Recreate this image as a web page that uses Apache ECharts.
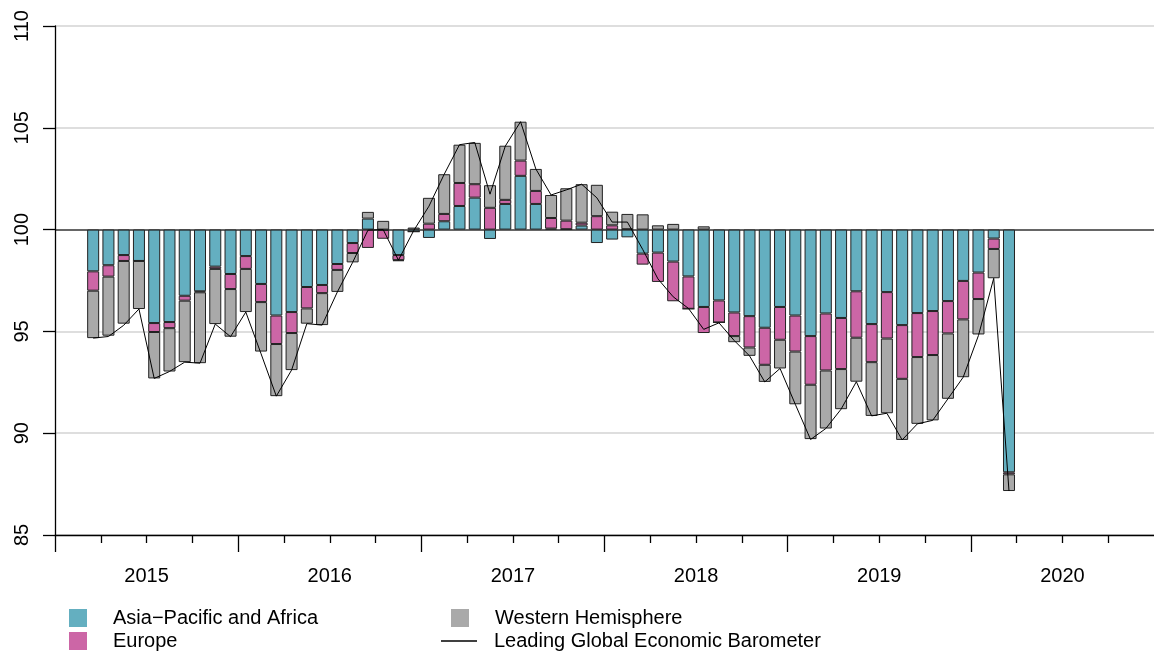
<!DOCTYPE html>
<html><head><meta charset="utf-8">
<script src="https://cdn.jsdelivr.net/npm/echarts@6/dist/echarts.min.js"></script>
<style>html,body{margin:0;padding:0;background:#fff}#c{width:1154px;height:651px}</style>
</head><body><div id="c"></div>
<script>
const months = [
 '2015-03','2015-04','2015-05','2015-06','2015-07','2015-08','2015-09','2015-10','2015-11','2015-12',
 '2016-01','2016-02','2016-03','2016-04','2016-05','2016-06','2016-07','2016-08','2016-09','2016-10','2016-11','2016-12',
 '2017-01','2017-02','2017-03','2017-04','2017-05','2017-06','2017-07','2017-08','2017-09','2017-10','2017-11','2017-12',
 '2018-01','2018-02','2018-03','2018-04','2018-05','2018-06','2018-07','2018-08','2018-09','2018-10','2018-11','2018-12',
 '2019-01','2019-02','2019-03','2019-04','2019-05','2019-06','2019-07','2019-08','2019-09','2019-10','2019-11','2019-12',
 '2020-01','2020-02','2020-03'];
// contributions (deviation from 100)
const asiaPacific = [
 -2.05,-1.75,-1.25,-1.54,-4.59,-4.54,-3.25,-3.03,-1.82,-2.18,
 -1.30,-2.67,-4.22,-4.05,-2.82,-2.72,-1.69,-0.66,0.54,-0.02,-1.25,-0.10,
 -0.41,0.41,1.16,1.57,-0.46,1.26,2.64,1.26,0.05,0.02,0.20,-0.66,
 -0.49,-0.38,-1.18,-1.13,-1.57,-2.30,-3.80,-3.48,-4.07,-4.25,-4.82,-3.80,
 -4.22,-5.23,-4.12,-4.34,-3.03,-4.64,-3.07,-4.69,-4.10,-4.00,-3.51,-2.52,
 -2.11,-0.44,-11.92];
const europe = [
 -0.95,-0.56,-0.29,0,-0.44,-0.30,-0.24,-0.05,-0.11,-0.74,
 -0.63,-0.89,-1.40,-1.03,-1.05,-0.40,-0.29,-0.49,-0.90,-0.43,-0.25,0,
 0.29,0.36,1.13,0.66,1.07,0.20,0.75,0.64,0.52,0.42,0.14,0.66,
 0.21,0.02,-0.54,-1.44,-1.95,-1.59,-1.28,-1.08,-1.16,-1.54,-1.82,-1.61,
 -1.77,-2.39,-2.80,-2.51,-2.28,-1.87,-2.28,-2.64,-2.16,-2.16,-1.59,-1.89,
 -1.30,-0.51,-0.10];
const westernHemisphere = [
 -2.33,-2.90,-3.08,-2.36,-2.28,-2.13,-3.02,-3.48,-2.71,-2.34,
 -2.12,-2.43,-2.56,-1.82,-0.75,-1.57,-1.08,-0.46,0.33,0.43,-0.05,0.10,
 1.27,1.95,1.88,2.03,1.11,2.66,1.91,1.08,1.13,1.59,1.89,1.54,
 0.67,0.75,0.75,0.21,0.28,0,0.16,0,-0.30,-0.41,-0.84,-1.41,
 -2.59,-2.67,-2.85,-1.97,-2.16,-2.64,-3.67,-3.00,-3.28,-3.21,-3.21,-2.84,
 -1.74,-1.44,-0.82];
const barometer = [
 94.67,94.75,95.30,96.10,92.69,93.03,93.49,93.44,95.36,94.74,
 95.95,93.90,91.82,93.10,95.38,95.31,96.94,98.39,99.97,100.00,98.50,99.95,
 101.15,102.72,104.17,104.28,101.74,104.10,105.30,102.98,101.70,101.95,102.23,101.56,
 100.37,100.37,99.03,97.58,96.70,96.13,95.10,95.42,94.55,93.80,92.52,93.18,
 91.42,89.69,90.23,91.18,92.53,90.85,90.98,89.67,90.46,90.63,91.69,92.75,
 94.80,97.61,87.16];
const yearLabels = ['2015','2016','2017','2018','2019','2020'];
const baseline = 100;

const FONT = '"Liberation Sans", Arial, sans-serif';
const FS = 20;
const TEAL = '#64AFC0', PINK = '#CC66A6', GRAY = '#A9A9A9';

// full monthly category list covering the axis (Jan of first year to Dec of last year)
const allMonths = [];
yearLabels.forEach(y => { for (let m = 1; m <= 12; m++) allMonths.push(y + '-' + String(m).padStart(2,'0')); });
const NCAT = allMonths.length;
const place = arr => { const out = allMonths.map(() => null); months.forEach((m,i) => { out[allMonths.indexOf(m)] = arr[i]; }); return out; };

const yearStart = yearLabels.map(y => (Number(y) - Number(yearLabels[0])) * 12);
const yearMid = yearStart.map(v => v + 6);
const quarterTicks = [];
yearStart.forEach(s => { quarterTicks.push(s+3, s+6, s+9); });

const chart = echarts.init(document.getElementById('c'), null, {renderer:'canvas'});
const barStyle = c => ({color:c, borderColor:'#222', borderWidth:1});
const boxLegend = (name, left, top) => ({
  data:[name], orient:'horizontal', left:left, top:top, padding:0,
  itemWidth:18, itemHeight:18, icon:'rect', selectedMode:false,
  itemStyle:{borderWidth:0},
  textStyle:{fontSize:FS, color:'#000', fontFamily:FONT, padding:[0,0,0,21]}
});
chart.setOption({
  animation:false,
  backgroundColor:'#fff',
  grid:{left:55, right:-4.5, top:26, bottom:116, containLabel:false},
  xAxis:[
    {type:'value', min:0, max:NCAT,
     axisLine:{show:true, onZero:false, lineStyle:{color:'#000', width:1.3}},
     axisTick:{show:true, customValues:yearStart, length:17, lineStyle:{color:'#000', width:1.3}},
     axisLabel:{show:true, customValues:yearMid, margin:31, fontSize:FS, color:'#000', fontFamily:FONT,
       formatter: v => yearLabels[Math.round((v-6)/12)]},
     splitLine:{show:false}},
    {type:'value', min:0, max:NCAT, position:'bottom',
     axisLine:{show:false, onZero:false},
     axisTick:{show:true, customValues:quarterTicks, length:8, lineStyle:{color:'#000', width:1.3}},
     axisLabel:{show:false}, splitLine:{show:false}},
    {type:'category', data:allMonths, boundaryGap:true, position:'bottom', show:false,
     axisLine:{show:false, onZero:false}, axisTick:{show:false}, axisLabel:{show:false}}
  ],
  yAxis:{type:'value', min:-15, max:10, interval:5,
    axisLine:{show:true, onZero:false, lineStyle:{color:'#000', width:1.3}},
    axisTick:{show:true, length:12, lineStyle:{color:'#000', width:1.3}},
    axisLabel:{rotate:90, margin:23, fontSize:FS, color:'#000', fontFamily:FONT,
      formatter: v => String(v + baseline)},
    splitLine:{show:true, lineStyle:{width:1.5, color:['#d3d3d3','#d3d3d3','#d3d3d3','#333333','#d3d3d3','#d3d3d3']}}},
  legend:[
    boxLegend('Asia−Pacific and Africa', 69, 608),
    boxLegend('Europe', 69, 631),
    boxLegend('Western Hemisphere', 451, 608),
    {data:['Leading Global Economic Barometer'], orient:'horizontal', left:441, top:631, padding:0,
     itemWidth:36, itemHeight:1.3, icon:'rect', selectedMode:false,
     itemStyle:{color:'#000', borderWidth:0},
     textStyle:{fontSize:FS, color:'#000', fontFamily:FONT, padding:[0,0,0,12]}}
  ],
  series:[
    {name:'Asia−Pacific and Africa', type:'bar', stack:'s', xAxisIndex:2, barWidth:12, data:place(asiaPacific), itemStyle:barStyle(TEAL)},
    {name:'Europe', type:'bar', stack:'s', xAxisIndex:2, barWidth:12, data:place(europe), itemStyle:barStyle(PINK)},
    {name:'Western Hemisphere', type:'bar', stack:'s', xAxisIndex:2, barWidth:12, data:place(westernHemisphere), itemStyle:barStyle(GRAY)},
    {name:'Leading Global Economic Barometer', type:'line', xAxisIndex:2, z:5, symbol:'none', showSymbol:false,
     data:place(barometer.map(v => +(v - baseline).toFixed(2))), lineStyle:{color:'#000', width:1}, itemStyle:{color:'#000'}}
  ]
});
</script></body></html>
